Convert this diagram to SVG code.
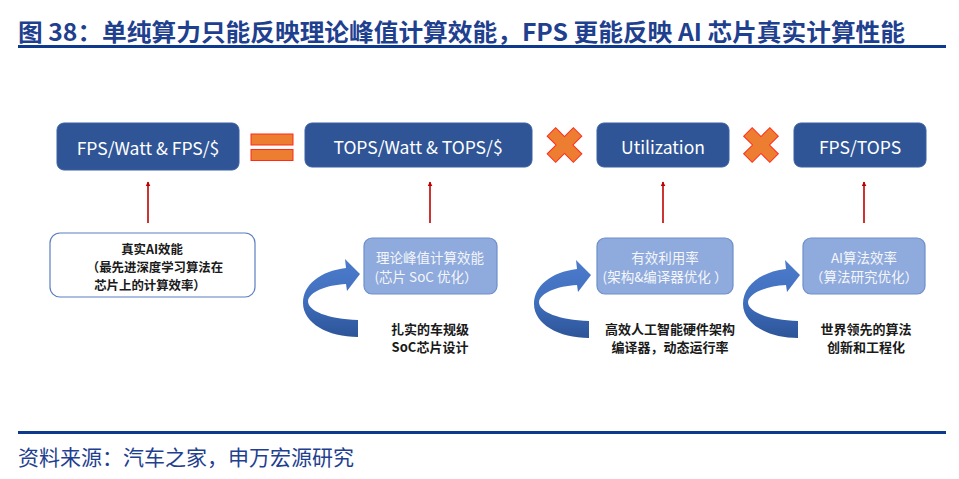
<svg xmlns="http://www.w3.org/2000/svg" xmlns:xlink="http://www.w3.org/1999/xlink" width="959" height="479" viewBox="0 0 959 479">
<style>
.title{font-family:"Noto Sans CJK SC","Liberation Sans",sans-serif;font-weight:700;font-size:24px;fill:#1F3F8F}
.src{font-family:"Noto Sans CJK SC","Liberation Sans",sans-serif;font-size:21px;fill:#1F3F8F}
.top{fill:#2F5597;stroke:#3A61A3;stroke-width:1}
.topt{font-family:"Noto Sans CJK SC","Liberation Sans",sans-serif;font-size:17.5px;fill:#FFFFFF;text-anchor:middle}
.mid{fill:#8FAADC;stroke:#6E8FCB;stroke-width:1.2}
.midt{font-family:"Noto Sans CJK SC","Liberation Sans",sans-serif;font-size:13.5px;fill:#F4F6FB;text-anchor:middle}
.wb{fill:#FFFFFF;stroke:#5B7FC0;stroke-width:1.2}
.bt{font-family:"Noto Sans CJK SC","Liberation Sans",sans-serif;font-weight:700;font-size:13px;fill:#1A1A1A;text-anchor:middle}
.bs{font-family:"Noto Sans CJK SC","Liberation Sans",sans-serif;font-weight:700;font-size:12.4px;fill:#1A1A1A;text-anchor:middle}
.op{fill:#ED7D31;stroke:#FF2A1A;stroke-width:1}
.red{stroke:#C00000;stroke-width:1.6;fill:none}
</style>
<defs>
<marker id="ah" viewBox="0 0 8 8" refX="7" refY="4" markerWidth="5" markerHeight="5" orient="auto" markerUnits="userSpaceOnUse">
<path d="M0,0 L8,4 L0,8 Z" fill="#C00000"/>
</marker>
<linearGradient id="cg" x1="0" y1="0" x2="0" y2="1">
<stop offset="0" stop-color="#4C7BCB"/>
<stop offset="0.5" stop-color="#4170BF"/>
<stop offset="1" stop-color="#2C5498"/>
</linearGradient>
<path id="curl" d="M358 337 C328 337 303 323 303 303 C303 285 320 271 346 268 L345 259 L360 274 L347 291 L346 284 C326 285 309 292 308 301 C308 311 328 319 358 320 Z" fill="url(#cg)"/>
<polygon id="xm" points="6,-18.5 6,-6 18.5,-6 18.5,6 6,6 6,18.5 -6,18.5 -6,6 -18.5,6 -18.5,-6 -6,-6 -6,-18.5"/>
</defs>

<g id="title">
<text class="title" x="18" y="41" textLength="887" lengthAdjust="spacingAndGlyphs">图 38：单纯算力只能反映理论峰值计算效能，FPS 更能反映 AI 芯片真实计算性能</text>
<rect x="18" y="45" width="928" height="3" fill="#0E3A8E"/>
</g>

<g id="node-fps-watt">
<rect class="top" x="57" y="123" width="182" height="47" rx="7"/>
<text class="topt" x="148" y="155">FPS/Watt &amp; FPS/$</text>
</g>
<g id="op-equal">
<rect class="op" x="251" y="134" width="42" height="11"/>
<rect class="op" x="251" y="149.5" width="42" height="11"/>
</g>
<g id="node-tops-watt">
<rect class="top" x="305" y="123" width="227" height="44" rx="7"/>
<text class="topt" x="418" y="154">TOPS/Watt &amp; TOPS/$</text>
</g>
<g id="op-times-1">
<use xlink:href="#xm" href="#xm" class="op" transform="translate(564.5 145) rotate(45)"/>
</g>
<g id="node-utilization">
<rect class="top" x="597" y="123" width="132" height="44" rx="7"/>
<text class="topt" x="663" y="154">Utilization</text>
</g>
<g id="op-times-2">
<use xlink:href="#xm" href="#xm" class="op" transform="translate(761 145) rotate(45)"/>
</g>
<g id="node-fps-tops">
<rect class="top" x="794" y="123" width="132" height="44" rx="7"/>
<text class="topt" x="860" y="154">FPS/TOPS</text>
</g>

<g id="node-real-ai">
<rect class="wb" x="50" y="233" width="205" height="64" rx="10"/>
<text class="bs" x="152" y="254">真实AI效能</text>
<text class="bs" x="155" y="272">（最先进深度学习算法在</text>
<text class="bs" x="150" y="290">芯片上的计算效率）</text>
</g>
<g id="node-peak">
<rect class="mid" x="364" y="238" width="133" height="56" rx="8"/>
<text class="midt" x="430" y="263">理论峰值计算效能</text>
<text class="midt" x="426" y="282">(芯片 SoC 优化）</text>
</g>
<g id="node-util-rate">
<rect class="mid" x="597" y="238" width="136" height="56" rx="8"/>
<text class="midt" x="665" y="263">有效利用率</text>
<text class="midt" x="665" y="282">(架构&amp;编译器优化 ）</text>
</g>
<g id="node-algo">
<rect class="mid" x="803" y="238" width="122" height="56" rx="8"/>
<text class="midt" x="864" y="263">AI算法效率</text>
<text class="midt" x="864" y="282">（算法研究优化）</text>
</g>

<g id="label-soc">
<text class="bt" x="430" y="334">扎实的车规级</text>
<text class="bt" x="430" y="352">SoC芯片设计</text>
</g>
<g id="label-hw">
<text class="bt" x="670" y="334">高效人工智能硬件架构</text>
<text class="bt" x="670" y="352">编译器，动态运行率</text>
</g>
<g id="label-algo">
<text class="bt" x="866" y="334">世界领先的算法</text>
<text class="bt" x="866" y="352">创新和工程化</text>
</g>

<g id="connectors">
<line class="red" x1="148" y1="223" x2="148" y2="182" marker-end="url(#ah)"/>
<line class="red" x1="430" y1="223" x2="430" y2="182" marker-end="url(#ah)"/>
<line class="red" x1="663" y1="223" x2="663" y2="182" marker-end="url(#ah)"/>
<line class="red" x1="864" y1="223" x2="864" y2="182" marker-end="url(#ah)"/>
<use xlink:href="#curl" href="#curl"/>
<use xlink:href="#curl" href="#curl" transform="translate(231 1)"/>
<use xlink:href="#curl" href="#curl" transform="translate(440 1)"/>
</g>

<g id="footer">
<rect x="18" y="431" width="928" height="3" fill="#0E3A8E"/>
<text class="src" x="18" y="465">资料来源：汽车之家，申万宏源研究</text>
</g>
</svg>
